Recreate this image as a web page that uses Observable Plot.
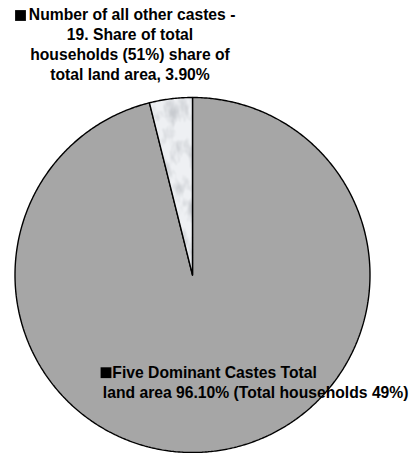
<!DOCTYPE html>
<html>
<head>
<meta charset="utf-8">
<script src="https://cdn.jsdelivr.net/npm/d3@7"></script>
<script src="https://cdn.jsdelivr.net/npm/@observablehq/plot@0.6"></script>
<style>
  html, body { margin: 0; padding: 0; background: #fff; }
  #chart svg { display: block; }
</style>
</head>
<body>
<div id="chart"></div>
<script>
// Land area held by caste groups in the village
const categories = ["Five Dominant Castes", "All other castes"];
const landShare = [96.10, 3.90];        // % of total land area
const householdShare = [49, 51];        // % of total households
const otherCasteCount = 19;

const sliceFills = ["#a6a6a6", "url(#speckle)"];

// Slice outlines: d3.pie gives the angles (0 = 12 o'clock, clockwise);
// each slice becomes a closed ring of points on the unit circle.
const arcs = d3.pie().sort(null)(landShare);
const ring = [];
arcs.forEach((a, i) => {
  const steps = Math.max(8, Math.ceil((a.endAngle - a.startAngle) / (Math.PI / 360)));
  ring.push({slice: categories[i], x: 0, y: 0});
  for (let k = 0; k <= steps; k++) {
    const t = a.startAngle + (a.endAngle - a.startAngle) * k / steps;
    ring.push({slice: categories[i], x: Math.sin(t), y: Math.cos(t)});
  }
  ring.push({slice: categories[i], x: 0, y: 0});
});

const W = 414, H = 453;
const cx = 192, cy = 274.5, R = 177.5;   // pie centre and radius in pixels

// Data labels: the first line of each sits beside a black key square
const otherHead = "Number of all other castes -";
const otherBody =
  `${otherCasteCount}. Share of total\nhouseholds (${householdShare[1]}%) share of\n` +
  `total land area, ${landShare[1].toFixed(2)}%`;
const dominantHead = "Five Dominant Castes Total";
const dominantBody =
  `land area ${landShare[0].toFixed(2)}% (Total households ${householdShare[0]}%)`;

const FS = 15.7;                 // label font size
const PITCH = 20;                // line pitch in px
const LH = PITCH / FS;
// with lineAnchor "top" Plot puts the first baseline 0.71 line-heights down
const fromBaseline = (baseline) => baseline - 0.71 * PITCH;
const label = {
  frameAnchor: "top-left", text: d => d, lineAnchor: "top",
  lineHeight: LH, fontSize: FS, fontWeight: "bold", fill: "#000"
};

const chart = Plot.plot({
  width: W,
  height: H,
  margin: 0,
  x: {domain: [-cx / R, (W - cx) / R], axis: null},
  y: {domain: [-(H - cy) / R, cy / R], axis: null},
  color: {domain: categories, range: sliceFills},
  style: {fontFamily: "'Liberation Sans', Arial, sans-serif", background: "#fff"},
  marks: [
    Plot.line(ring, {
      x: "x", y: "y", z: "slice", fill: "slice",
      stroke: "#000", strokeWidth: 1.4, strokeLinejoin: "miter", curve: "linear"
    }),
    // key squares
    Plot.dot([categories[1]], {frameAnchor: "top-left", dx: 20, dy: 15, symbol: "square", r: 6.1, fill: "#000", stroke: null}),
    Plot.dot([categories[0]], {frameAnchor: "top-left", dx: 105.5, dy: 372.2, symbol: "square", r: 6.1, fill: "#000", stroke: null}),
    // label for the small slice
    Plot.text([otherHead], {...label, dx: 28.3, dy: fromBaseline(20), textAnchor: "start"}),
    Plot.text([otherBody], {...label, dx: 129.5, dy: fromBaseline(40), textAnchor: "middle"}),
    // label for the large slice
    Plot.text([dominantHead], {...label, dx: 111.8, dy: fromBaseline(377.7), textAnchor: "start"}),
    Plot.text([dominantBody], {...label, dx: 102.3, dy: fromBaseline(397.7), textAnchor: "start"})
  ]
});

// Speckled light fill for the small slice
const defs = d3.select(chart).insert("defs", ":first-child");
const f = defs.append("filter").attr("id", "noise")
  .attr("x", 0).attr("y", 0).attr("width", "100%").attr("height", "100%");
f.append("feTurbulence").attr("type", "fractalNoise")
  .attr("baseFrequency", "0.09 0.05").attr("numOctaves", 3).attr("seed", 7);
f.append("feColorMatrix").attr("type", "matrix")
  .attr("values", "0 0 0 0 0.58  0 0 0 0 0.6  0 0 0 0 0.63  2.6 0 0 0 -1.15");
const p = defs.append("pattern").attr("id", "speckle")
  .attr("patternUnits", "userSpaceOnUse")
  .attr("x", 0).attr("y", 0).attr("width", W).attr("height", H);
p.append("rect").attr("width", W).attr("height", H).attr("fill", "#eef0f3");
p.append("rect").attr("width", W).attr("height", H).attr("filter", "url(#noise)");

document.getElementById("chart").appendChild(chart);
</script>
</body>
</html>
